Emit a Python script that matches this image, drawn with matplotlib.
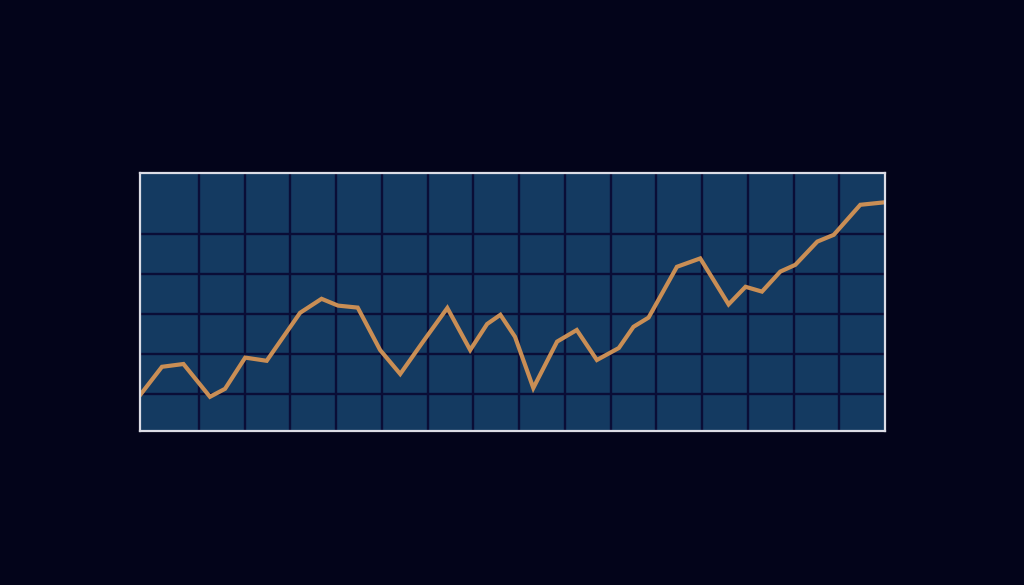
import numpy as np
import matplotlib
matplotlib.use("Agg")
import matplotlib.pyplot as plt

# values (grid units)
x = np.array([-0.29, 0.19, 0.66, 1.24, 1.57, 2.01, 2.48, 3.21, 3.68, 4.04, 4.47, 4.96,
              5.40, 5.90, 6.43, 6.93, 7.30, 7.59, 7.91, 8.31, 8.83, 9.26, 9.70, 10.18,
              10.50, 10.83, 11.45, 11.96, 12.58, 12.95, 13.31, 13.71, 14.04, 14.52,
              14.88, 15.46, 15.97])
y = np.array([0.97, 1.68, 1.75, 0.93, 1.13, 1.91, 1.83, 3.03, 3.38, 3.21, 3.16, 2.10,
              1.50, 2.31, 3.15, 2.10, 2.75, 2.98, 2.43, 1.15, 2.31, 2.60, 1.85, 2.15,
              2.68, 2.91, 4.18, 4.39, 3.24, 3.68, 3.56, 4.06, 4.23, 4.81, 4.98, 5.73,
              5.79])
xticks = np.arange(1, 16)
yticks = np.arange(1, 6)

bg = '#03041a'
fig = plt.figure(figsize=(10.24, 5.85), dpi=100, facecolor=bg)
ax = fig.add_axes([140/1024, 1-431/585, 745/1024, 258/585])
ax.set_facecolor('#143a61')

ax.plot(x, y, color='#c98e55', lw=3, solid_joinstyle='miter', zorder=3)

ax.set_xlim(-0.29, 16.0)
ax.set_ylim(0.075, 6.525)
ax.set_xticks(xticks)
ax.set_yticks(yticks)
ax.grid(True, color='#0a0d36', lw=1.7)
ax.tick_params(length=0, labelbottom=False, labelleft=False)
for s in ax.spines.values():
    s.set_color('#dcdde6')
    s.set_linewidth(1.6)
    s.set_zorder(4)

fig.savefig('out.png', dpi=100, facecolor=bg)
